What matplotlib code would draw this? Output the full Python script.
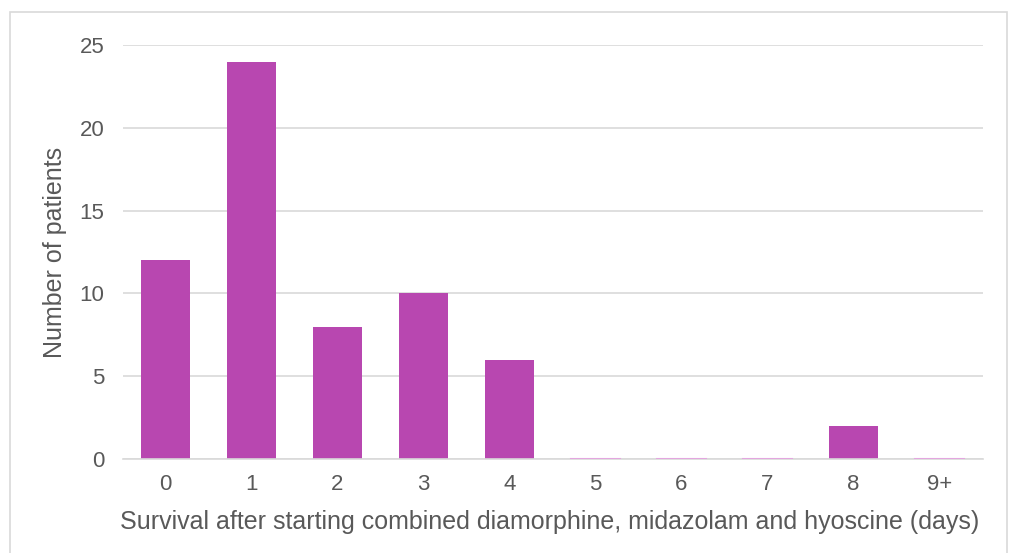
import numpy as np
import matplotlib
matplotlib.use('Agg')
import matplotlib.pyplot as plt
from matplotlib.patches import Rectangle

# survival in days after starting the combined infusion
days = ['0', '1', '2', '3', '4', '5', '6', '7', '8', '9+']
patients = [12, 24, 8, 10, 6, 0, 0, 0, 2, 0]

plt.rcParams['font.family'] = ['Liberation Sans', 'DejaVu Sans']
txt = '#595959'

fig = plt.figure(figsize=(10.10, 5.53), dpi=100)
ax = fig.add_axes([0.1213, 0.170, 0.8515, 0.7486])

# frame around the whole chart
fig.patches.append(Rectangle((10/1010, -0.1), 997/1010, 1.1 - 12/553,
                             transform=fig.transFigure, fill=False,
                             edgecolor='#d9d9d9', linewidth=1.2))

X = np.arange(len(days))
ax.bar(X, patients, width=0.57, color='#b847b0', zorder=2)
# zero bars show as a faint line on the baseline
zeros = [i for i, v in enumerate(patients) if v == 0]
for i in zeros:
    ax.plot([i - 0.285, i + 0.285], [0, 0], color='#e3a6df', lw=1.5, zorder=3)

ax.set_xlim(-0.5, len(days) - 0.5)
ax.set_ylim(0, 25)
ax.set_yticks([0, 5, 10, 15, 20, 25])
ax.set_xticks(X)
ax.set_xticklabels(days)
ax.yaxis.grid(True, color='#d9d9d9', linewidth=1.2, zorder=0)
for s in ['top', 'right', 'left']:
    ax.spines[s].set_visible(False)
ax.spines['bottom'].set_color('#d9d9d9')
ax.spines['bottom'].set_linewidth(1.2)
ax.tick_params(length=0, labelsize=16, colors=txt)
ax.tick_params(axis='y', pad=13)
ax.tick_params(axis='x', pad=11)

ax.set_ylabel('Number of patients', fontsize=18, color=txt)
ax.set_xlabel('Survival after starting combined diamorphine, midazolam and hyoscine (days)',
              fontsize=18, color=txt)
ax.yaxis.set_label_coords(-0.0785, 0.5)
ax.xaxis.set_label_coords(0.497, -0.152)
ax.xaxis.label.set_va('center')
ax.yaxis.label.set_va('center')

fig.savefig('out.png', dpi=100)
